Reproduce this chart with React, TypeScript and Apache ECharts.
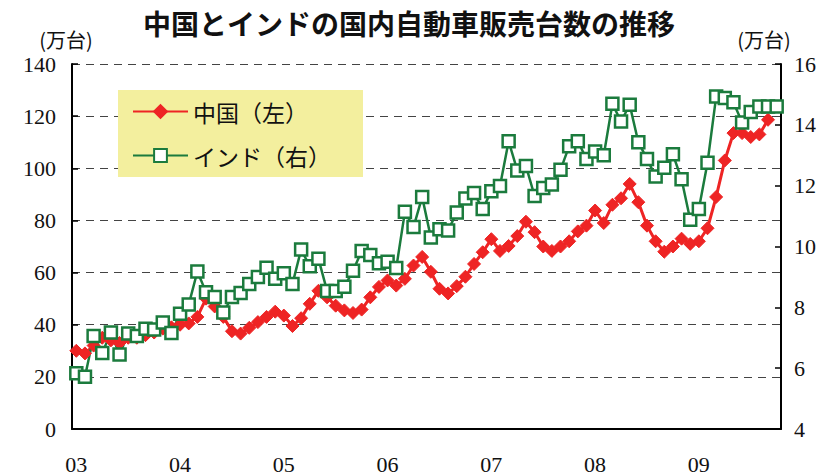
import React, { useEffect, useRef } from "react";
import * as echarts from "echarts";

const title = "中国とインドの国内自動車販売台数の推移";
const unitLabel = "(万台)";
const yearLabels = ["03", "04", "05", "06", "07", "08", "09"];
const monthCount = 82; // Jan 2003 - Oct 2009
const seriesNames = ["中国（左）", "インド（右）"];

// China, 10k units (left axis)
const china: (number | null)[] = [
  30, 29, 32, 35, 34, 33, 35, 35, 36, 37, 38.5, 39,
  40, 40.5, 43, 50, 47, 43, 37.5, 36.6, 38.8, 41, 43, 45,
  43.5, 39.5, 42.5, 48, 53, 50.5, 47.3, 45.5, 44.5, 45.8, 50.5, 54.5,
  57, 55, 57.6, 62.7, 66, 60.3, 53.8, 52, 54.8, 58.4, 63.3, 67.8,
  72.8, 68.3, 70.2, 74, 79.5, 75.5, 70, 68.3, 70, 72, 75.8, 78,
  83.8, 79, 86, 88.5, 94, 87, 78, 72, 68, 70, 73, 71,
  72, 77, 89, 103, 113.5, 113.5, 112, 113, 118.6, null,
];

// India, 10k units (right axis)
const india: number[] = [
  5.83, 5.72, 7.06, 6.5, 7.17, 6.45, 7.14, 7.06, 7.3, 7.27, 7.5, 7.16,
  7.79, 8.09, 9.18, 8.5, 8.34, 7.83, 8.34, 8.47, 8.77, 9.0, 9.3, 8.94,
  9.12, 8.77, 9.9, 9.35, 9.6, 8.54, 8.54, 8.68, 9.2, 9.85, 9.72, 9.45,
  9.5, 9.29, 11.14, 10.64, 11.63, 10.3, 10.57, 10.53, 11.12, 11.58, 11.76, 11.23,
  11.82, 11.99, 13.46, 12.5, 12.65, 11.66, 11.92, 12.04, 12.52, 13.3, 13.46, 12.88,
  13.12, 13.0, 14.69, 14.11, 14.66, 13.43, 12.88, 12.3, 12.59, 13.03, 12.21, 10.88,
  11.23, 12.75, 14.93, 14.88, 14.74, 14.08, 14.42, 14.6, 14.6, 14.6,
];

const categories = Array.from(
  { length: monthCount },
  (_, i) => `${yearLabels[Math.floor(i / 12)]}/${(i % 12) + 1}`
);

const RED = "#ee2424";
const GREEN = "#1b7b3d";
const SERIF = "Liberation Serif";
const CJK = "Noto Sans CJK JP";

const tickLabel = {
  fontSize: 22,
  fontFamily: SERIF,
  fontStyle: "normal",
  fontWeight: "normal",
  color: "#111",
};

export default function App() {
  const ref = useRef<HTMLDivElement>(null);
  useEffect(() => {
    document.body.style.margin = "0";
    const chart = echarts.init(ref.current!, null, { renderer: "svg" });
    chart.setOption({
      animation: false,
      backgroundColor: "#ffffff",
      textStyle: { fontFamily: SERIF },
      graphic: [
        {
          type: "text",
          x: 409,
          y: 23,
          style: {
            text: title,
            fontSize: 28,
            fontWeight: "bold",
            fontFamily: CJK,
            align: "center",
            verticalAlign: "middle",
            fill: "#111",
          },
        },
        {
          type: "text",
          x: 66,
          y: 39,
          style: {
            text: unitLabel,
            fontSize: 20,
            fontFamily: CJK,
            align: "center",
            verticalAlign: "middle",
            fill: "#111",
          },
        },
        {
          type: "text",
          x: 764,
          y: 39,
          style: {
            text: unitLabel,
            fontSize: 20,
            fontFamily: CJK,
            align: "center",
            verticalAlign: "middle",
            fill: "#111",
          },
        },
      ],
      legend: {
        orient: "vertical",
        left: 118,
        top: 90,
        backgroundColor: "#f3ef9e",
        padding: [10, 32, 10, 14],
        itemGap: 21,
        itemWidth: 55,
        itemHeight: 16,
        textStyle: { fontSize: 23, fontFamily: CJK, color: "#111" },
        data: seriesNames,
      },
      grid: { left: 72, right: 49, top: 64, bottom: 44 },
      xAxis: {
        type: "category",
        data: categories,
        boundaryGap: true,
        axisLine: { lineStyle: { color: "#000", width: 2 } },
        axisTick: {
          inside: true,
          interval: 0,
          length: 6,
          lineStyle: { color: "#000", width: 1.5 },
        },
        axisLabel: {
          ...tickLabel,
          interval: 11,
          margin: 24,
          formatter: (v: string) => v.split("/")[0],
        },
        splitLine: { show: false },
      },
      yAxis: [
        {
          type: "value",
          min: 0,
          max: 140,
          interval: 20,
          axisLine: { show: true, lineStyle: { color: "#000", width: 2 } },
          axisTick: { show: true, inside: true, length: 6, lineStyle: { color: "#000", width: 1.5 } },
          axisLabel: { ...tickLabel, margin: 16 },
          splitLine: {
            show: true,
            lineStyle: { color: "#444", width: 1.2, type: [8, 6] },
          },
        },
        {
          type: "value",
          min: 4,
          max: 16,
          interval: 2,
          position: "right",
          axisLine: { show: true, lineStyle: { color: "#000", width: 2 } },
          axisTick: { show: true, inside: true, length: 6, lineStyle: { color: "#000", width: 1.5 } },
          axisLabel: { ...tickLabel, margin: 13 },
          splitLine: { show: false },
        },
      ],
      series: [
        {
          name: seriesNames[0],
          type: "line",
          yAxisIndex: 0,
          data: china,
          symbol: "diamond",
          symbolSize: 13,
          showAllSymbol: true,
          lineStyle: { color: RED, width: 3 },
          itemStyle: { color: RED, borderColor: RED, borderWidth: 1 },
        },
        {
          name: seriesNames[1],
          type: "line",
          yAxisIndex: 1,
          data: india,
          symbol: "rect",
          symbolSize: 12,
          showAllSymbol: true,
          lineStyle: { color: GREEN, width: 2.5 },
          itemStyle: { color: "#ffffff", borderColor: GREEN, borderWidth: 2.5 },
        },
      ],
    });
    return () => chart.dispose();
  }, []);
  return (
    <div
      ref={ref}
      style={{ position: "fixed", left: 0, top: 0, width: 830, height: 475 }}
    />
  );
}
